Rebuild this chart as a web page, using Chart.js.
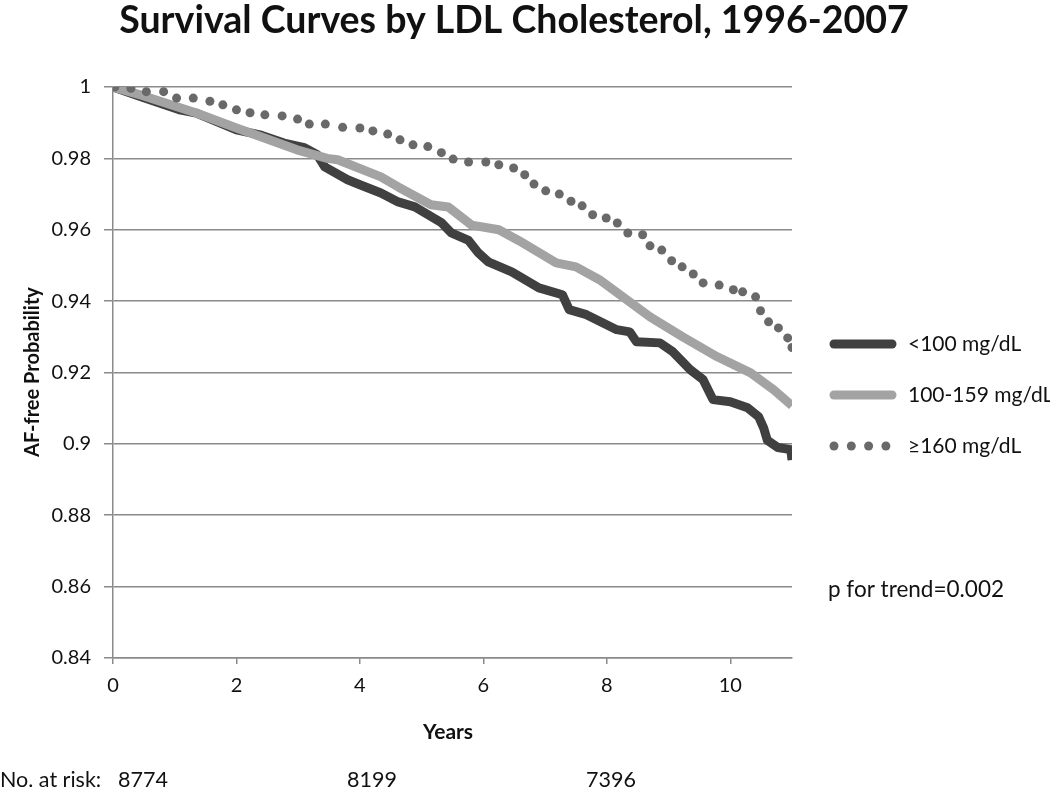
<!DOCTYPE html>
<html>
<head>
<meta charset="utf-8">
<script src="https://cdn.jsdelivr.net/npm/chart.js@4/dist/chart.umd.min.js"></script>
<style>
    body { margin: 0; background: #fff; }
    #wrap { width: 1050px; height: 790px; }
</style>
</head>
<body>
<div id="wrap"><canvas id="survChart" width="1050" height="790"></canvas></div>
<script>
// Kaplan-Meier curves (years, AF-free probability)
const yearsLow = [0, 0.5, 1.1, 1.35, 2.0, 2.4, 2.77, 3.1, 3.31, 3.43, 3.8, 4.0, 4.34, 4.62, 4.89, 5.32, 5.48, 5.76, 5.92, 6.08, 6.46, 6.9, 7.28, 7.39, 7.67, 8.16, 8.37, 8.48, 8.86, 9.07, 9.35, 9.56, 9.72, 10.0, 10.28, 10.46, 10.54, 10.6, 10.77, 10.98, 11.0];
const survLow = [1.0, 0.997, 0.9935, 0.9927, 0.988, 0.9865, 0.9843, 0.983, 0.981, 0.9776, 0.974, 0.9726, 0.9703, 0.9678, 0.9664, 0.962, 0.9591, 0.957, 0.9535, 0.951, 0.9482, 0.9437, 0.9418, 0.9376, 0.9362, 0.932, 0.9314, 0.9286, 0.9283, 0.9258, 0.9208, 0.918, 0.9124, 0.9118, 0.9101, 0.9076, 0.9045, 0.901, 0.899, 0.8984, 0.8955];

const yearsMid = [0, 0.5, 1.35, 2.0, 2.98, 3.47, 3.64, 4.34, 4.62, 5.15, 5.43, 5.81, 6.25, 6.57, 7.18, 7.5, 7.88, 8.32, 8.7, 9.23, 9.79, 10.33, 10.7, 11.0];
const survMid = [1.0, 0.9975, 0.9927, 0.9885, 0.9824, 0.980, 0.9796, 0.9748, 0.972, 0.967, 0.9664, 0.9613, 0.960, 0.957, 0.9507, 0.9496, 0.946, 0.9404, 0.9356, 0.93, 0.9244, 0.9199, 0.9152, 0.9107];

const yearsHigh = [0.03, 0.29, 0.54, 0.82, 1.03, 1.3, 1.57, 1.78, 2.0, 2.22, 2.46, 2.74, 2.99, 3.18, 3.44, 3.72, 4.0, 4.21, 4.45, 4.65, 4.86, 5.1, 5.32, 5.51, 5.76, 6.04, 6.25, 6.49, 6.67, 6.82, 7.01, 7.23, 7.42, 7.6, 7.77, 7.99, 8.17, 8.34, 8.58, 8.7, 8.89, 9.05, 9.22, 9.4, 9.56, 9.82, 10.05, 10.2, 10.41, 10.49, 10.62, 10.78, 10.93, 11.0];
const survHigh = [1.0, 0.9996, 0.9987, 0.9987, 0.9969, 0.9969, 0.996, 0.995, 0.9936, 0.9928, 0.9922, 0.9919, 0.991, 0.9896, 0.9896, 0.9887, 0.9885, 0.9877, 0.9868, 0.9852, 0.9838, 0.9833, 0.9816, 0.9798, 0.979, 0.979, 0.9782, 0.9773, 0.9754, 0.9728, 0.9709, 0.97, 0.968, 0.9667, 0.9642, 0.9633, 0.9619, 0.9591, 0.9586, 0.9555, 0.9543, 0.9513, 0.9496, 0.9476, 0.9451, 0.9445, 0.9432, 0.9426, 0.9412, 0.9373, 0.9342, 0.9325, 0.9297, 0.927];

const groupLabels = ['<100 mg/dL', '100-159 mg/dL', '\u2265160 mg/dL'];
const riskCounts = ['8774', '8199', '7396'];

const FONT = 'Lato, "Open Sans", sans-serif';
const TEXT = '#111';

const toPoints = (xs, ys) => xs.map((x, i) => ({ x: x, y: ys[i] }));

// draws title, axis titles, legend and the notes around the plot
const extras = {
    id: 'extras',
    afterDraw(chart) {
        const ctx = chart.ctx;
        ctx.save();
        ctx.fillStyle = TEXT;
        ctx.textBaseline = 'middle';

        ctx.textAlign = 'center';
        ctx.font = 'bold 37.5px ' + FONT;
        ctx.fillText('Survival Curves by LDL Cholesterol, 1996-2007', 514, 21);

        ctx.font = 'bold 21px ' + FONT;
        ctx.fillText('Years', 448, 732);

        ctx.save();
        ctx.translate(33, 372);
        ctx.rotate(-Math.PI / 2);
        ctx.font = 'bold 20px ' + FONT;
        ctx.fillText('AF-free Probability', 0, 0);
        ctx.restore();

        // legend
        const legendY = [344, 395, 446];
        ctx.textAlign = 'left';
        ctx.font = '21px ' + FONT;
        groupLabels.forEach((lbl, i) => {
            const ds = chart.data.datasets.find(d => d.label === lbl);
            const y = legendY[i];
            if (ds.showLine === false) {
                ctx.fillStyle = ds.pointBackgroundColor;
                for (let k = 0; k < 4; k++) {
                    ctx.beginPath();
                    ctx.arc(834 + k * 17.3, y, 4.5, 0, Math.PI * 2);
                    ctx.fill();
                }
            } else {
                ctx.strokeStyle = ds.borderColor;
                ctx.lineWidth = ds.borderWidth;
                ctx.lineCap = 'round';
                ctx.beginPath();
                ctx.moveTo(834, y);
                ctx.lineTo(892, y);
                ctx.stroke();
            }
            ctx.fillStyle = TEXT;
            ctx.fillText(lbl, 908, y);
        });

        ctx.font = '22.5px ' + FONT;
        ctx.fillText('p for trend=0.002', 828, 590);

        ctx.font = '21.5px ' + FONT;
        ctx.fillText('No. at risk:', 0, 780);
        ctx.fillText(riskCounts[0], 118, 780);
        ctx.fillText(riskCounts[1], 347, 780);
        ctx.fillText(riskCounts[2], 586, 780);
        ctx.restore();
    }
};

const ctx = document.getElementById('survChart');
const survChart = new Chart(ctx, {
    type: 'line',
    data: {
        datasets: [
            {
                label: groupLabels[0],
                data: toPoints(yearsLow, survLow),
                borderColor: '#404040',
                borderWidth: 9,
                borderJoinStyle: 'round',
                pointRadius: 0,
                tension: 0,
                order: 3,
            },
            {
                label: groupLabels[1],
                data: toPoints(yearsMid, survMid),
                borderColor: '#a3a3a3',
                borderWidth: 9,
                borderJoinStyle: 'round',
                pointRadius: 0,
                tension: 0,
                order: 2,
            },
            {
                label: groupLabels[2],
                data: toPoints(yearsHigh, survHigh),
                showLine: false,
                pointRadius: 4.5,
                pointBorderWidth: 0,
                pointBackgroundColor: '#696969',
                pointBorderColor: '#696969',
                order: 1,
            },
        ],
    },
    options: {
        responsive: false,
        animation: false,
        layout: { padding: { left: 0, top: 87, right: 258, bottom: 82 } },
        plugins: {
            legend: { display: false },
            title: { display: false },
            tooltip: { enabled: false },
        },
        scales: {
            x: {
                type: 'linear',
                min: 0,
                max: 11,
                afterFit: (scale) => { scale.height = 50; },
                ticks: {
                    stepSize: 2,
                    includeBounds: false,
                    padding: 10,
                    color: TEXT,
                    font: { family: FONT, size: 20 },
                },
                grid: { drawOnChartArea: false, tickLength: 6, color: '#8a8a8a', lineWidth: 1.5 },
                border: { color: '#8a8a8a', width: 1.5 },
            },
            y: {
                min: 0.84,
                max: 1,
                afterFit: (scale) => { scale.width = 113; },
                ticks: {
                    stepSize: 0.02,
                    padding: 13,
                    color: TEXT,
                    font: { family: FONT, size: 20 },
                    callback: (v) => String(parseFloat(v.toFixed(2))),
                },
                grid: { tickLength: 9, color: '#8a8a8a', lineWidth: 1.5 },
                border: { color: '#8a8a8a', width: 1.5 },
            },
        },
    },
    plugins: [extras],
});
</script>
</body>
</html>
